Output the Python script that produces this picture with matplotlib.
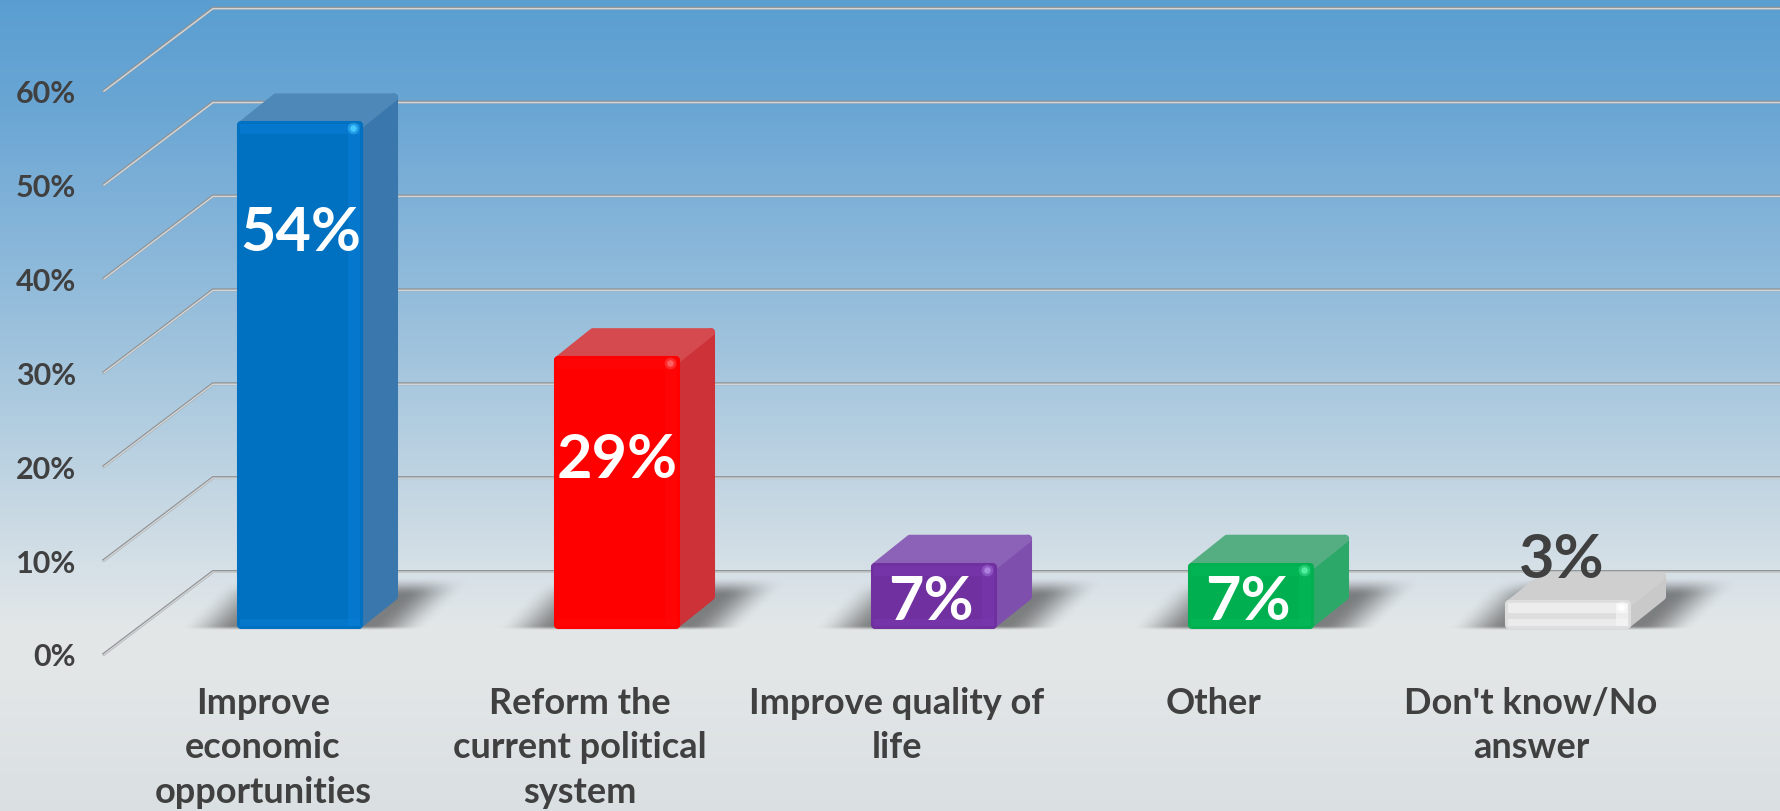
import numpy as np
import matplotlib
matplotlib.use("Agg")
import matplotlib.pyplot as plt
from matplotlib.colors import to_rgb
from matplotlib.patches import Polygon

# ---------- data ----------
categories = ["Improve\neconomic\nopportunities", "Reform the\ncurrent political\nsystem",
              "Improve quality of\nlife", "Other", "Don't know/No\nanswer"]
values = [54, 29, 7, 7, 3]
value_labels = ["54%", "29%", "7%", "7%", "3%"]
y_ticks = [0, 10, 20, 30, 40, 50, 60]
y_tick_labels = ["0%", "10%", "20%", "30%", "40%", "50%", "60%"]

# ---------- style ----------
front_cols = ["#0070C0", "#FF0000", "#7030A0", "#00B050", "#DEDEDE"]
front_hi = ["#0A7FD6", "#FF0808", "#7A38AE", "#06B858", "#F8F8F8"]
side_cols = ["#3A77AD", "#CC3238", "#7F4FAE", "#2CA868", "#C9C9C9"]
top_cols = ["#4E88B8", "#D54A4E", "#8C62B8", "#55AE82", "#CFCFCF"]
spec_cols = ["#45C8FF", "#FF6060", "#B080E0", "#50F0A0", "#FFFFFF"]
label_cols = ["white", "white", "white", "white", "#404040"]
label_dy = [-11.8, -11.0, -4.1, -4.1, 4.4]
label_dx = [1, 0, -3, -3, -6]
TXT = "#404040"
FONT = "Lato"

W, H = 1781, 812
AX_L, AX_B = 104, 680
X0, SP = 300.0, 317.0      # px of first bar centre, px per category
Y0, PP = 629.5, 9.39       # px of value 0, px per percent
px, py = 1 / SP, 1 / PP

fig = plt.figure(figsize=(W / 100, H / 100), dpi=100)

# background gradient
bg = fig.add_axes([0, 0, 1, 1], zorder=0)
bg.axis("off")
stops_y = [0, 110, 200, 300, 400, 500, 570, 630, 680, 812]
stops_c = ["#5A9ED1", "#6AA6D4", "#7FB1D8", "#94BDDB", "#ACCADF", "#C5D7E3",
           "#D6E0E7", "#E3E7E8", "#E2E6E7", "#DADFE2"]
yy = np.arange(H)
rgb = np.array([to_rgb(c) for c in stops_c])
grad = np.stack([np.interp(yy, stops_y, rgb[:, i]) for i in range(3)], axis=1)[:, None, :]
bg.imshow(grad, aspect="auto", extent=[0, 1, 1, 0])

ax = fig.add_axes([AX_L / W, 1 - AX_B / H, 1 - AX_L / W, AX_B / H], zorder=1)
ax.patch.set_alpha(0)
xlim = ((AX_L - X0) / SP, (W - X0) / SP)
ylim = ((Y0 - AX_B) / PP, Y0 / PP)
for s in ax.spines.values():
    s.set_visible(False)

# 3-D wall offsets
front_x, back_x = xlim[0], (213 - X0) / SP
front_y, back_y = (Y0 - 655) / PP, (Y0 - 572.5) / PP

for v in y_ticks:
    ax.plot([front_x, back_x, xlim[1]], [v + front_y, v + back_y, v + back_y],
            color="#8E9295", lw=2.1, zorder=2, clip_on=False, solid_joinstyle="miter")
    ax.plot([front_x, back_x, xlim[1]], [v + front_y - 0.06, v + back_y - 0.06, v + back_y - 0.06],
            color="#D2D4D5", lw=1.1, zorder=2.1, clip_on=False, solid_joinstyle="miter")

# bars
half = 63 * px
dx, dy = 35 * px, 28 * py
ix, iy = 4 * px, 4 * py
xg = np.linspace(-130, 185, 160)
yg = np.linspace(-4, 54, 58)
GX, GY = np.meshgrid(xg, yg)

def smooth(t):
    t = np.clip(t, 0, 1)
    return t * t * (3 - 2 * t)

for i, v in enumerate(values):
    # floor shadow
    left = smooth((GX - GY + 122) / 62)
    right = smooth((128 + GY - GX) / 58)
    vert = smooth((GY + 3) / 5) * smooth((52 - GY) / 20)
    alpha = 0.62 * left * right * vert
    sh = np.zeros(alpha.shape + (4,))
    sh[..., :3] = 0.25
    sh[..., 3] = alpha
    ax.imshow(sh, origin="lower", aspect="auto", zorder=3, interpolation="bilinear",
              extent=[i + xg[0] * px, i + xg[-1] * px, yg[0] * py, yg[-1] * py])

    l, r = i - half, i + half
    t = v
    kw = dict(closed=True, lw=5.8, joinstyle="round", clip_on=False)
    # side
    ax.add_patch(Polygon([(r - ix, iy), (r + dx - ix, dy + iy), (r + dx - ix, t + dy - iy), (r - ix, t - iy)],
                         fc=side_cols[i], ec=side_cols[i], zorder=4, **kw))
    # top
    ax.add_patch(Polygon([(l + ix, t - iy), (r - ix, t - iy), (r + dx - ix, t + dy - iy), (l + dx + ix, t + dy - iy)],
                         fc=top_cols[i], ec=top_cols[i], zorder=4.1, **kw))
    # front
    ax.add_patch(Polygon([(l + ix, iy), (r - ix, iy), (r - ix, t - iy), (l + ix, t - iy)],
                         fc=front_cols[i], ec=front_cols[i], zorder=5, **kw))
    # bevel highlights on the front
    band = 10 * py
    strip = 15 * px
    e_x, e_y = 3 * px, 3 * py
    ax.fill([l + e_x, r - e_x, r - e_x, l + e_x], [t - band - e_y, t - band - e_y, t - e_y, t - e_y],
            color=front_hi[i], alpha=0.6, zorder=5.1, lw=0)
    ax.fill([r - strip, r - e_x, r - e_x, r - strip], [e_y, e_y, t - e_y, t - e_y],
            color=front_hi[i], alpha=0.6, zorder=5.1, lw=0)
    ax.fill([l + e_x, r - e_x, r - e_x, l + e_x], [e_y, e_y, band, band],
            color=front_hi[i], alpha=0.5, zorder=5.1, lw=0)
    ax.scatter([r - 10 * px], [t - 7 * py], s=70, color=spec_cols[i], alpha=0.4, lw=0, zorder=5.2)
    ax.scatter([r - 10 * px], [t - 7 * py], s=22, color=spec_cols[i], lw=0, zorder=5.3)
    # value label
    ax.text(i + label_dx[i] * px, v + label_dy[i], value_labels[i], color=label_cols[i], fontsize=44,
            fontweight="bold", family=FONT, ha="center", va="center", zorder=7)

ax.set_xlim(xlim)
ax.set_ylim(ylim)

# axes ticks
label_shift = -37 * px
ax.set_xticks([i + label_shift for i in range(len(categories))])
ax.set_xticklabels(categories, fontsize=26, fontweight="bold", family=FONT, color=TXT,
                   ha="center", va="top")
for lab in ax.get_xticklabels():
    lab.set_linespacing(1.42)
ax.set_yticks([v + front_y for v in y_ticks])
ax.set_yticklabels(y_tick_labels, fontsize=22, fontweight="bold", family=FONT, color=TXT)
ax.tick_params(axis="x", length=0, pad=5)
ax.tick_params(axis="y", length=0, pad=20)

fig.savefig("out.png", dpi=100)
